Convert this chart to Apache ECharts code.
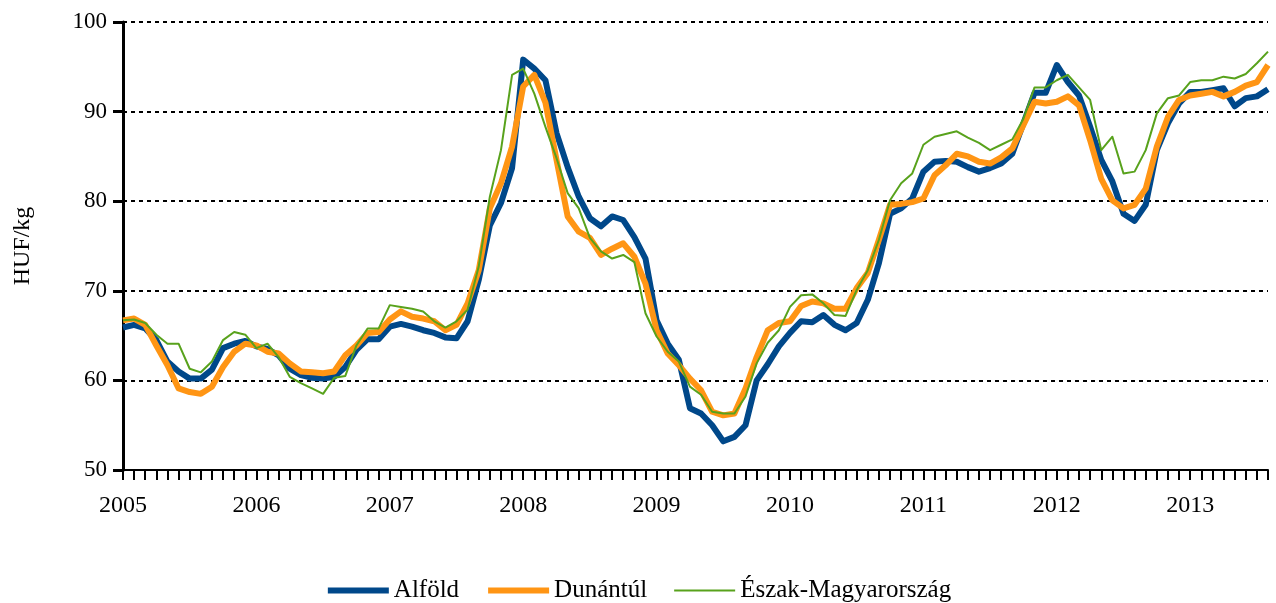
<!DOCTYPE html>
<html>
<head>
<meta charset="utf-8">
<script src="https://cdn.jsdelivr.net/npm/echarts@6/dist/echarts.min.js"></script>
<style>
html, body { margin: 0; padding: 0; background: #fff; }
#chart { width: 1276px; height: 603px; }
</style>
</head>
<body>
<div id="chart"></div>
<script>
// monthly prices, HUF/kg, Jan 2005 - Aug 2013
const years = [2005, 2006, 2007, 2008, 2009, 2010, 2011, 2012, 2013];
const yTicks = [50, 60, 70, 80, 90, 100];
const seriesNames = ["Alföld", "Dunántúl", "Észak-Magyarország"];

const alfold = [
    65.9, 66.2, 65.8, 64.5, 62.1, 61.0, 60.2, 60.2, 61.2, 63.6, 64.1, 64.4,
    63.8, 63.5, 62.8, 61.3, 60.6, 60.3, 60.2, 60.4, 61.5, 63.4, 64.6, 64.6,
    66.0, 66.3, 66.0, 65.6, 65.3, 64.8, 64.7, 66.6, 71.2, 77.3, 79.8, 83.7,
    95.8, 94.8, 93.5, 87.6, 83.8, 80.5, 78.1, 77.2, 78.3, 77.9, 76.0, 73.6,
    66.7, 64.1, 62.3, 56.9, 56.3, 55.0, 53.2, 53.7, 55.0, 60.0, 61.8, 63.8,
    65.3, 66.6, 66.5, 67.3, 66.2, 65.6, 66.4, 69.0, 73.1, 78.6, 79.2, 80.3,
    83.3, 84.4, 84.5, 84.4, 83.8, 83.3, 83.7, 84.2, 85.3, 88.7, 92.1, 92.1,
    95.2, 93.3, 91.8, 88.3, 84.6, 82.2, 78.6, 77.8, 79.6, 85.7, 88.7, 90.9,
    92.2, 92.2, 92.4, 92.6, 90.6, 91.5, 91.7, 92.5
];
const dunantul = [
    66.7, 66.9, 66.2, 63.9, 61.7, 59.1, 58.7, 58.5, 59.3, 61.5, 63.2, 64.1,
    63.9, 63.2, 63.0, 61.9, 61.0, 60.9, 60.8, 61.0, 62.8, 63.9, 65.3, 65.4,
    66.8, 67.7, 67.1, 66.9, 66.6, 65.6, 66.2, 68.6, 72.3, 79.2, 82.0, 86.1,
    92.8, 94.1, 91.0, 84.6, 78.3, 76.6, 75.9, 74.0, 74.7, 75.3, 73.8, 70.8,
    65.6, 63.0, 61.7, 60.2, 58.9, 56.5, 56.1, 56.3, 59.1, 62.6, 65.6, 66.4,
    66.6, 68.3, 68.8, 68.6, 68.0, 68.0, 70.3, 72.0, 75.7, 79.6, 79.7, 79.9,
    80.3, 82.9, 84.0, 85.3, 85.0, 84.4, 84.2, 84.9, 85.9, 88.5, 91.1, 90.9,
    91.1, 91.7, 90.7, 86.8, 82.5, 80.1, 79.2, 79.6, 81.4, 86.1, 89.4, 91.3,
    91.8, 92.0, 92.2, 91.7, 92.2, 92.9, 93.3, 95.2
];
const eszak = [
    66.7, 66.8, 66.4, 65.1, 64.1, 64.1, 61.3, 60.9, 62.1, 64.5, 65.4, 65.1,
    63.6, 64.1, 62.6, 60.4, 59.7, 59.1, 58.5, 60.3, 60.5, 63.9, 65.8, 65.8,
    68.4, 68.2, 68.0, 67.7, 66.6, 65.9, 66.6, 67.9, 72.7, 80.5, 85.7, 94.1,
    94.8, 92.0, 88.3, 84.8, 80.9, 79.2, 75.9, 74.4, 73.6, 74.0, 73.2, 67.5,
    64.9, 63.2, 62.1, 59.3, 58.4, 56.5, 56.3, 56.3, 58.2, 61.9, 64.2, 65.6,
    68.2, 69.5, 69.6, 68.6, 67.3, 67.2, 70.1, 72.3, 75.7, 80.1, 82.0, 83.1,
    86.3, 87.2, 87.5, 87.8, 87.1, 86.5, 85.7, 86.3, 86.9, 89.2, 92.7, 92.7,
    93.5, 94.1, 92.7, 91.3, 85.7, 87.2, 83.1, 83.3, 85.7, 89.8, 91.5, 91.8,
    93.3, 93.5, 93.5, 93.9, 93.7, 94.2, 95.4, 96.7
];

const color = {
    shaft: "#000000",
    item: ["#00488a", "#ff9514", "#58a21c"],
};
const widths = [6, 6, 2];
const font = "'Liberation Serif', 'Times New Roman', serif";

const processAxisData = function () {
    let res = [];
    years.forEach(function (y) {
        for (let m = 1; m <= 12; m++) {
            res.push(y + "-" + (m < 10 ? "0" + m : m));
        }
    });
    return res.slice(0, alfold.length);
}

const processLegend = function () {
    // plain line icons, no symbol dot
    return seriesNames.map(function (name, i) {
        return {
            name: name,
            itemStyle: { opacity: 0 },
            lineStyle: { color: color.item[i], width: widths[i] },
        };
    });
}

const processSeries = function () {
    const values = [alfold, dunantul, eszak];
    return seriesNames.map(function (name, i) {
        return {
            type: "line",
            name: name,
            data: values[i],
            symbol: "none",
            smooth: false,
            z: 2 + i,
            lineStyle: { color: color.item[i], width: widths[i], join: "round" },
            itemStyle: { color: color.item[i] },
        };
    });
}

const chart = echarts.init(document.getElementById("chart"), null, { renderer: "canvas" });
chart.setOption({
    animation: false,
    color: color.item,
    textStyle: { fontFamily: font, color: color.shaft },
    grid: { left: 123, right: 8, top: 22, bottom: 133 },
    legend: {
        top: 573,
        left: "center",
        itemWidth: 61,
        itemHeight: 10,
        itemGap: 26,
        textStyle: { fontFamily: font, fontSize: 25, color: color.shaft },
        data: processLegend(),
    },
    xAxis: {
        type: "category",
        boundaryGap: false,
        data: processAxisData(),
        axisLine: { lineStyle: { color: color.shaft, width: 2 } },
        axisTick: { interval: 0, length: 10, lineStyle: { color: color.shaft, width: 2 } },
        axisLabel: {
            interval: 11,
            margin: 24,
            fontSize: 24,
            fontFamily: font,
            color: color.shaft,
            formatter: function (v) { return v.slice(0, 4); },
        },
        splitLine: { show: false },
    },
    yAxis: {
        type: "value",
        min: yTicks[0],
        max: yTicks[yTicks.length - 1],
        interval: yTicks[1] - yTicks[0],
        name: "HUF/kg",
        nameLocation: "middle",
        nameGap: 88,
        nameTextStyle: { fontFamily: font, fontSize: 24, color: color.shaft },
        axisLine: { show: true, lineStyle: { color: color.shaft, width: 3 } },
        axisTick: { show: true, length: 10, lineStyle: { color: color.shaft, width: 3 } },
        axisLabel: { margin: 16, fontSize: 23, fontFamily: font, color: color.shaft },
        splitLine: { lineStyle: { color: color.shaft, width: 2, type: [4, 4] } },
    },
    series: processSeries(),
});
</script>
</body>
</html>
